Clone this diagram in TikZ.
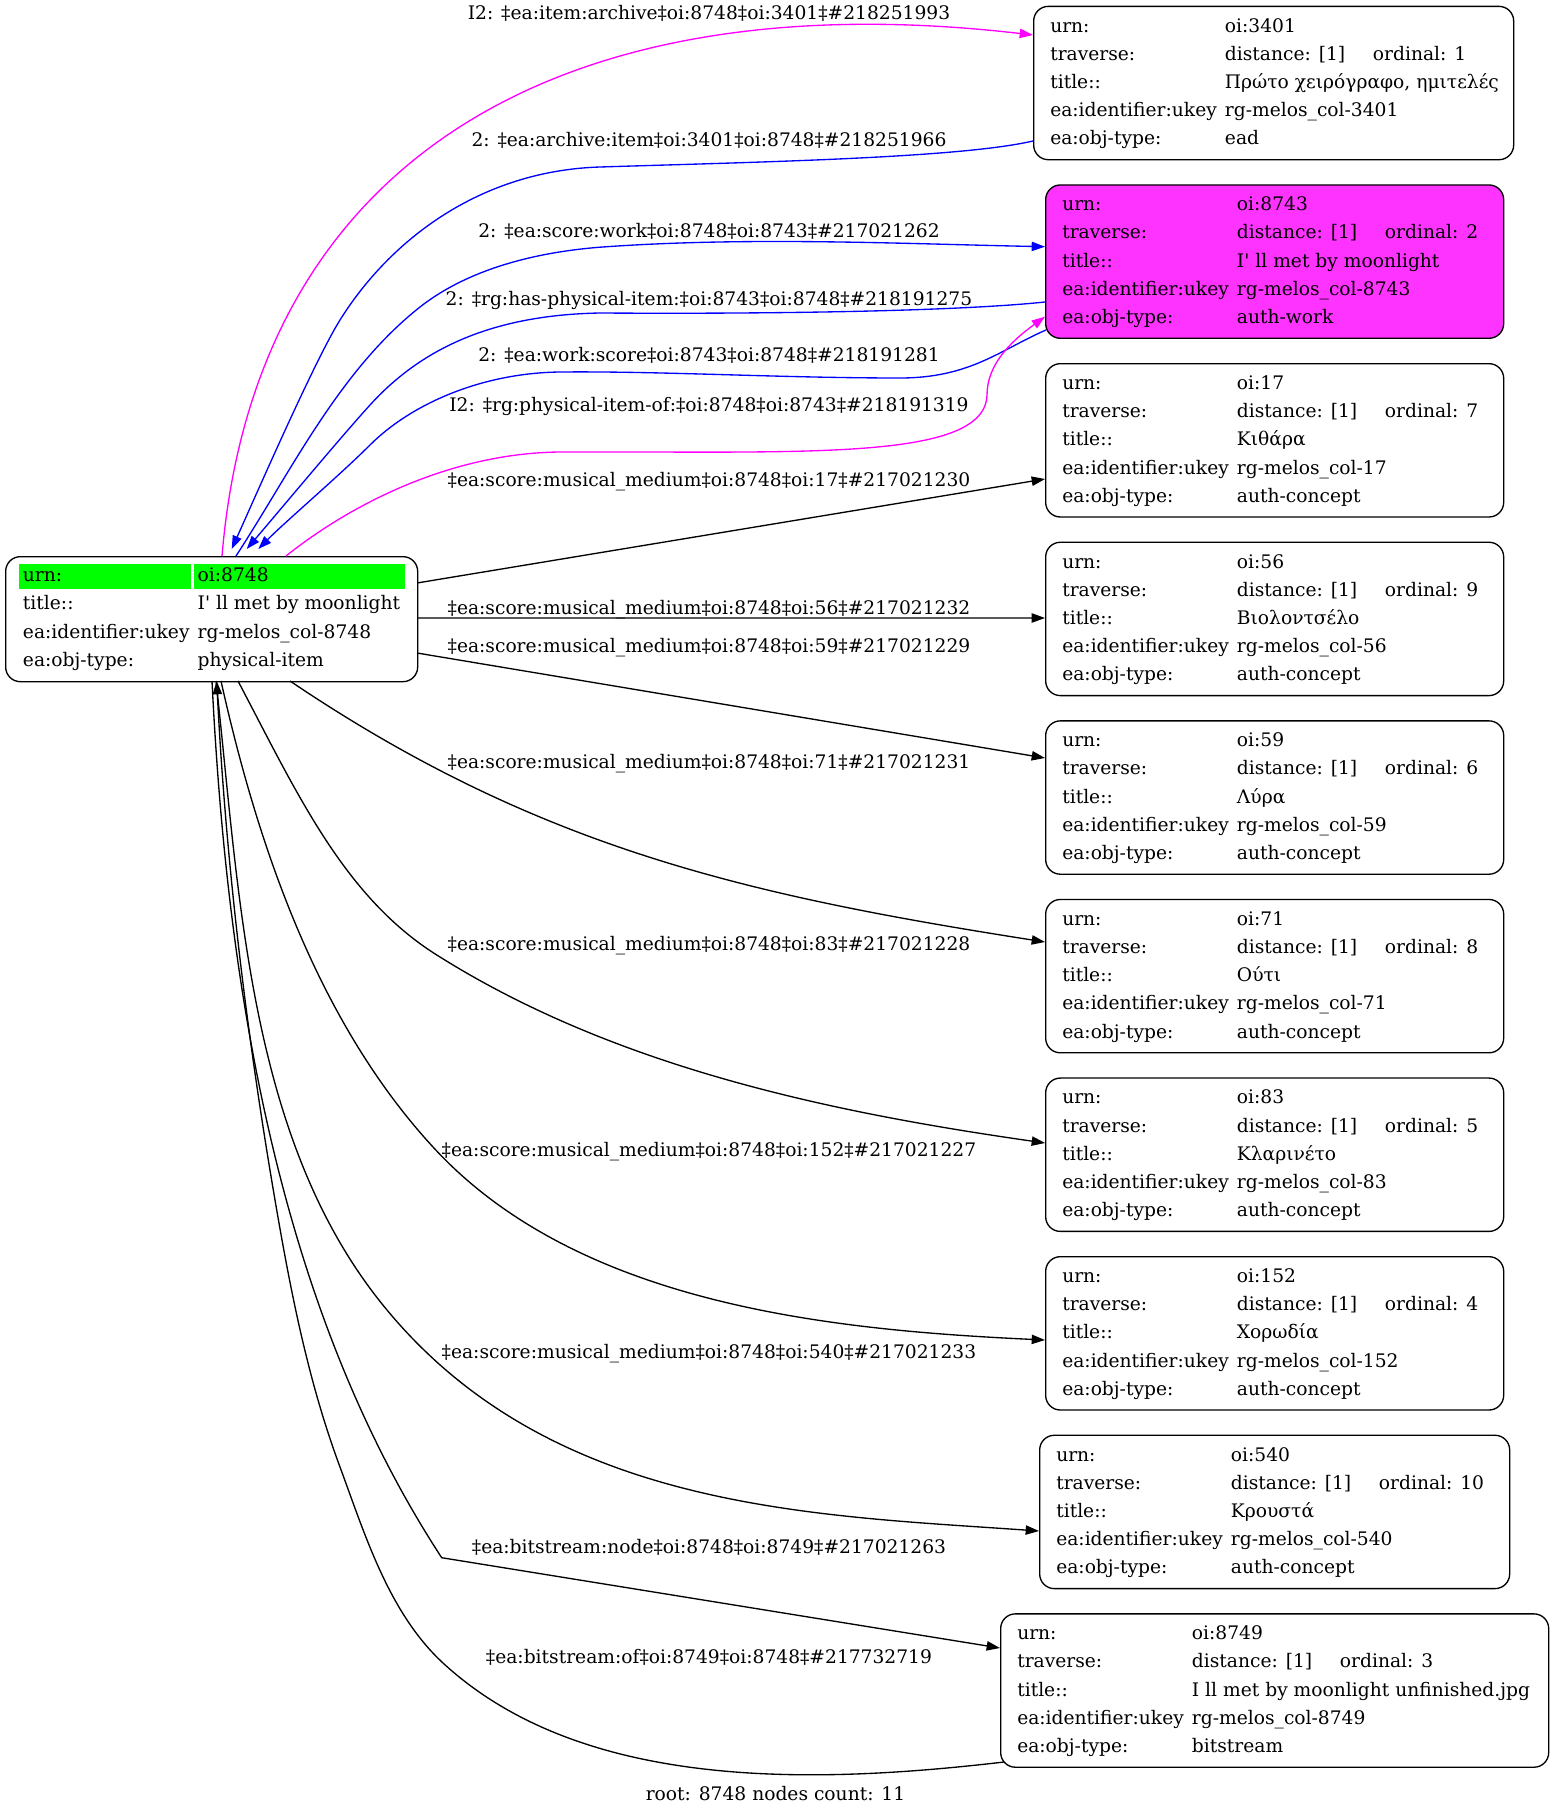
\documentclass[tikz,border=0pt]{standalone}
\usepackage{fontspec}
\setmainfont{DejaVu Serif}
\usetikzlibrary{calc,arrows.meta}
\definecolor{pinkfill}{RGB}{255,51,255}
\definecolor{edgemag}{RGB}{255,0,255}
\definecolor{edgeblue}{RGB}{0,0,255}
\definecolor{cellgreen}{RGB}{0,255,0}
\newcommand\rw[2]{\makebox[131pt][l]{#1}#2}
\newcommand\trv[1]{\makebox[111pt][l]{distance: [1]}ordinal: #1}
% name, left, top, width(px), urn, ordinal, title, ukey, type
\newcommand\infonode[9]{%
  \node[boxnode, minimum width=#4*0.75pt, minimum height=115pt] (#1) at (#2,#3) {};
  \node[txtnode] (#1t) at ($(#1.north west)+(17,26.5)$) {\begin{tabular}[t]{@{}l@{}}
    \rw{urn:}{#5}\\
    \rw{traverse:}{\trv{#6}}\\
    \rw{title::}{#7}\\
    \rw{ea:identifier:ukey}{#8}\\
    \rw{ea:obj-type:}{#9}
  \end{tabular}};
}
\tikzset{
  boxnode/.style={draw=black, line width=1pt, rounded corners=11pt, fill=white, inner sep=0pt, anchor=north west},
  txtnode/.style={anchor=base west, inner sep=0pt, font=\fontsize{14pt}{21.15pt}\selectfont},
  lbl/.style={anchor=base, inner sep=0pt, font=\fontsize{14pt}{17pt}\selectfont},
  conn/.style={line width=1pt, -{Triangle[length=10pt,width=7pt]}}
}
\begin{document}
\begin{tikzpicture}[x=0.75pt, y=-0.75pt]
\useasboundingbox (0,0) rectangle (1553,1815);
\fill[white] (0,0) rectangle (1553,1815);

% ---------------- nodes ----------------
\node[boxnode, minimum width=309pt, minimum height=93.75pt] (root) at (5,556) {};
\fill[cellgreen] (19.3,564) rectangle (191,589);
\fill[cellgreen] (194,564) rectangle (404.7,589);
\node[txtnode] (roott) at ($(root.north west)+(17.7,25.7)$) {\begin{tabular}[t]{@{}l@{}}
  \rw{urn:}{oi:8748}\\
  \rw{title::}{I\textquotesingle{} ll met by moonlight}\\
  \rw{ea:identifier:ukey}{rg-melos\_col-8748}\\
  \rw{ea:obj-type:}{physical-item}
\end{tabular}};

\infonode{n3401}{1033}{5.7}{480}{oi:3401}{1}{Πρώτο χειρόγραφο, ημιτελές}{rg-melos\_col-3401}{ead}
\node[boxnode, fill=pinkfill, minimum width=343.5pt, minimum height=115pt] (n8743) at (1045,184.3) {};
\node[txtnode] (n8743t) at ($(n8743.north west)+(17,26.5)$) {\begin{tabular}[t]{@{}l@{}}
  \rw{urn:}{oi:8743}\\
  \rw{traverse:}{\trv{2}}\\
  \rw{title::}{I\textquotesingle{} ll met by moonlight}\\
  \rw{ea:identifier:ukey}{rg-melos\_col-8743}\\
  \rw{ea:obj-type:}{auth-work}
\end{tabular}};
\infonode{n17}{1045}{363}{458}{oi:17}{7}{Κιθάρα}{rg-melos\_col-17}{auth-concept}
\infonode{n56}{1045}{541.6}{458}{oi:56}{9}{Βιολοντσέλο}{rg-melos\_col-56}{auth-concept}
\infonode{n59}{1045}{720.2}{458}{oi:59}{6}{Λύρα}{rg-melos\_col-59}{auth-concept}
\infonode{n71}{1045}{898.8}{458}{oi:71}{8}{Ούτι}{rg-melos\_col-71}{auth-concept}
\infonode{n83}{1045}{1077.4}{458}{oi:83}{5}{Κλαρινέτο}{rg-melos\_col-83}{auth-concept}
\infonode{n152}{1045}{1256}{458}{oi:152}{4}{Χορωδία}{rg-melos\_col-152}{auth-concept}
\infonode{n540}{1039}{1434.6}{470}{oi:540}{10}{Κρουστά}{rg-melos\_col-540}{auth-concept}
\infonode{n8749}{1000}{1613.2}{548}{oi:8749}{3}{I ll met by moonlight unfinished.jpg}{rg-melos\_col-8749}{bitstream}

% ---------------- edge end points ----------------
\coordinate (e1s) at ($(root.north west)+(217,0)$);
\coordinate (e1e) at ($(n3401.north west)+(0,29.3)$);
\coordinate (e2s) at ($(n3401.north west)+(0,135.3)$);
\coordinate (e2e) at ($(root.north west)+(226.7,-7)$);
\coordinate (e3s) at ($(root.north west)+(231,0)$);
\coordinate (e3e) at ($(n8743.north west)+(0,62.4)$);
\coordinate (e4s) at ($(n8743.north west)+(0,117.7)$);
\coordinate (e4e) at ($(root.north west)+(241.7,-7)$);
\coordinate (e5s) at ($(n8743.north west)+(1,145.7)$);
\coordinate (e5e) at ($(root.north west)+(253.3,-7)$);
\coordinate (e6s) at ($(root.north west)+(281,0)$);
\coordinate (e6e) at ($(n8743.north west)+(0,132.4)$);
\coordinate (e7s) at ($(root.north west)+(412,27)$);
\coordinate (e7e) at ($(n17.north west)+(0,116)$);
\coordinate (e8s) at ($(root.north west)+(412,62)$);
\coordinate (e8e) at ($(n56.north west)+(0,76.4)$);
\coordinate (e9s) at ($(root.north west)+(412,97)$);
\coordinate (e9e) at ($(n59.north west)+(0,37.8)$);
\coordinate (e10s) at ($(root.north west)+(285,125)$);
\coordinate (e10e) at ($(n71.north west)+(0,43.2)$);
\coordinate (e11s) at ($(root.north west)+(233,125)$);
\coordinate (e11e) at ($(n83.north west)+(0,65.6)$);
\coordinate (e12s) at ($(root.north west)+(216,125)$);
\coordinate (e12e) at ($(n152.north west)+(0,84)$);
\coordinate (e13s) at ($(root.north west)+(211,125)$);
\coordinate (e13e) at ($(n540.north west)+(0,96.4)$);
\coordinate (e14s) at ($(root.north west)+(207,125)$);
\coordinate (e14c) at (441.7,1557.7);
\coordinate (e14e) at ($(n8749.north west)+(0,34.8)$);
\coordinate (e15s) at ($(n8749.north west)+(4,148.8)$);
\coordinate (e15e) at ($(root.north west)+(211.7,125)$);

% ---------------- edges ----------------
\draw[conn, edgemag] (e1s) .. controls (255,160) and (560,-20) .. (e1e);
\draw[conn, edgeblue] (e2s) .. controls (960,158) and (760,162) .. (600,167)
   .. controls (480,170.75) and (390,240) .. (340,320)
   .. controls (315,360) and (258.7,489) .. (e2e);
\draw[conn, edgeblue] (e3s) .. controls (292,470) and (339,371) .. (420,307)
   .. controls (471,267) and (542,251) .. (607,246.7)
   .. controls (753,236.7) and (899,243.7) .. (e3e);
\draw[conn, edgeblue] (e4s) .. controls (950,312) and (750,314) .. (600,313)
   .. controls (490,315) and (420,350) .. (370,405)
   .. controls (340,438) and (275,516) .. (e4e);
\draw[conn, edgeblue] (e5s) .. controls (1000,350) and (970,378) .. (900,378)
   .. controls (780,378) and (660,371) .. (560,372)
   .. controls (480,373) and (410,405) .. (370,445)
   .. controls (340,475) and (285,522) .. (e5e);
\draw[conn, edgemag] (e6s) .. controls (350,505) and (450,453) .. (560,452)
   .. controls (800,451) and (985,462) .. (987,395)
   .. controls (987,365) and (1010,342) .. (e6e);
\draw[conn] (e7s) -- (e7e);
\draw[conn] (e8s) -- (e8e);
\draw[conn] (e9s) -- (e9e);
\draw[conn] (e10s) .. controls (539,849) and (749,895.5) .. (e10e);
\draw[conn] (e11s) .. controls (298,795) and (345,899) .. (440,957)
   .. controls (619,1069) and (836,1113) .. (e11e);
\draw[conn] (e12s) .. controls (258,847) and (318,1022) .. (433,1147)
   .. controls (578,1305) and (831,1330) .. (e12e);
\draw[conn] (e13s) .. controls (240,897) and (248,1143) .. (387,1310)
   .. controls (553,1510) and (811,1515) .. (e13e);
\draw[conn] (e14s) .. controls (227,983) and (276.7,1305) .. (e14c) -- (e14e);
\draw[conn] (e15s) .. controls (815,1784) and (583,1792) .. (443,1663)
   .. controls (389,1613) and (365.6,1536.4) .. (340,1467)
   .. controls (308,1381) and (290.5,1290.7) .. (275,1200)
   .. controls (245.6,1028.4) and (225.4,855) .. (e15e);

% ---------------- labels ----------------
\node[lbl] (l1) at (709,20) {I2: ‡ea:item:archive‡oi:8748‡oi:3401‡\#218251993};
\node[lbl] (l2) at (709,146.7) {2: ‡ea:archive:item‡oi:3401‡oi:8748‡\#218251966};
\node[lbl] (l3) at (709,237.7) {2: ‡ea:score:work‡oi:8748‡oi:8743‡\#217021262};
\node[lbl] (l4) at (709,305.7) {2: ‡rg:has-physical-item:‡oi:8743‡oi:8748‡\#218191275};
\node[lbl] (l5) at (709,361.7) {2: ‡ea:work:score‡oi:8743‡oi:8748‡\#218191281};
\node[lbl] (l6) at (709,411.7) {I2: ‡rg:physical-item-of:‡oi:8748‡oi:8743‡\#218191319};
\node[lbl] (l7) at (709,486) {‡ea:score:musical\_medium‡oi:8748‡oi:17‡\#217021230};
\node[lbl] (l8) at (709,614) {‡ea:score:musical\_medium‡oi:8748‡oi:56‡\#217021232};
\node[lbl] (l9) at (709,652.5) {‡ea:score:musical\_medium‡oi:8748‡oi:59‡\#217021229};
\node[lbl] (l10) at (709,768.3) {‡ea:score:musical\_medium‡oi:8748‡oi:71‡\#217021231};
\node[lbl] (l11) at (709,950) {‡ea:score:musical\_medium‡oi:8748‡oi:83‡\#217021228};
\node[lbl] (l12) at (709,1156.7) {‡ea:score:musical\_medium‡oi:8748‡oi:152‡\#217021227};
\node[lbl] (l13) at (709,1358.3) {‡ea:score:musical\_medium‡oi:8748‡oi:540‡\#217021233};
\node[lbl] (l14) at (709,1553) {‡ea:bitstream:node‡oi:8748‡oi:8749‡\#217021263};
\node[lbl] (l15) at (709,1663) {‡ea:bitstream:of‡oi:8749‡oi:8748‡\#217732719};
\node[lbl] (glabel) at (775.5,1800) {root: 8748 nodes count: 11};
\end{tikzpicture}
\end{document}
